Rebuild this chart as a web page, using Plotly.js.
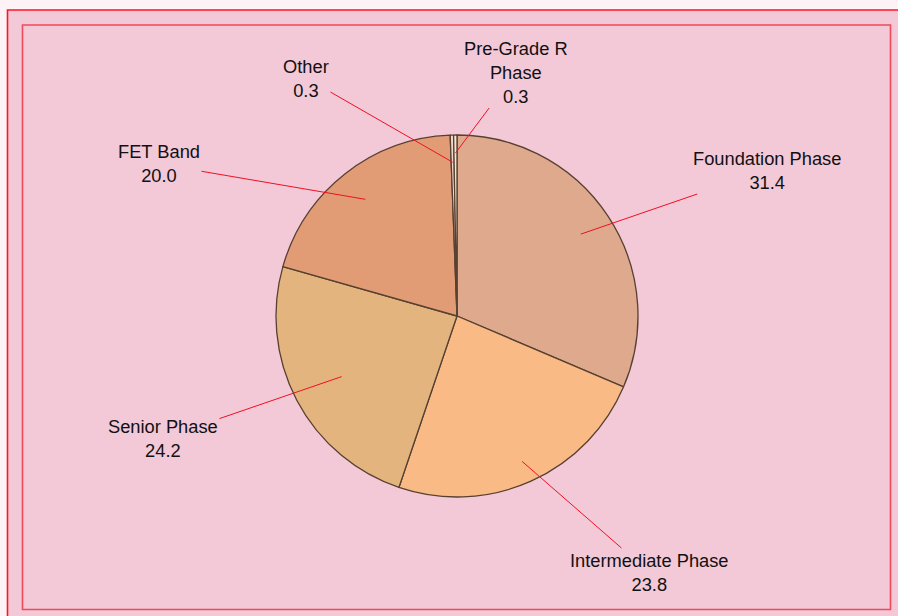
<!DOCTYPE html>
<html>
<head>
<meta charset="utf-8">
<script src="https://cdn.plot.ly/plotly-3.0.1.min.js"></script>
<style>
html,body{margin:0;padding:0;background:#fdf3f6;}
#chart{width:898px;height:616px;}
</style>
</head>
<body>
<div id="chart"></div>
<script>
// ---- data ----
const categories = ['Foundation Phase', 'Intermediate Phase', 'Senior Phase', 'FET Band', 'Other', 'Pre-Grade R Phase'];
const displayNames = ['Foundation Phase', 'Intermediate Phase', 'Senior Phase', 'FET Band', 'Other', 'Pre-Grade R<br>Phase'];
const shares = [31.4, 23.8, 24.2, 20.0, 0.3, 0.3];

// ---- style ----
const sliceColors = ['#dfa98e', '#f9ba86', '#e3b47e', '#e19c76', '#efd6cf', '#f6e6ce'];
const W = 898, H = 616;
const pieCx = 457, pieCy = 316, pieR = 181;
// label text centres (pixels) and anchor radius fraction
const labelPos = [[767, 170], [649, 572], [163, 438], [159, 164], [306, 78], [516, 72]];
const anchorFrac = [0.82, 0.88, 0.72, 0.82, 0.85, 0.9];

const total = shares.reduce((a, b) => a + b, 0);
let cum = 0;
const annotations = shares.map((v, i) => {
  const mid = (cum + v / 2) / total * 2 * Math.PI;
  cum += v;
  const px = pieCx + anchorFrac[i] * pieR * Math.sin(mid);
  const py = pieCy - anchorFrac[i] * pieR * Math.cos(mid);
  return {
    xref: 'paper', yref: 'paper',
    x: px / W, y: 1 - py / H,
    ax: labelPos[i][0] - px, ay: labelPos[i][1] - py,
    text: displayNames[i] + '<br>' + v.toFixed(1),
    showarrow: true, arrowhead: 0, arrowwidth: 1, arrowcolor: '#f01020',
    standoff: 0, startstandoff: 0,
    font: {family: 'Liberation Sans, Arial, sans-serif', size: 18.3, color: '#111111'},
    align: 'center'
  };
});

const trace = {
  type: 'pie',
  labels: categories,
  values: shares,
  sort: false,
  direction: 'clockwise',
  rotation: 0,
  textinfo: 'none',
  hoverinfo: 'label+value',
  marker: {colors: sliceColors, line: {color: '#574030', width: 1.3}},
  domain: {x: [(pieCx - pieR) / W, (pieCx + pieR) / W], y: [1 - (pieCy + pieR) / H, 1 - (pieCy - pieR) / H]}
};

const layout = {
  width: W, height: H,
  margin: {l: 0, r: 0, t: 0, b: 0},
  paper_bgcolor: '#fdf3f6',
  showlegend: false,
  shapes: [
    {type: 'rect', xref: 'paper', yref: 'paper', layer: 'below',
     x0: 7.5 / W, x1: 910 / W, y0: 1 - 630 / H, y1: 1 - 10 / H,
     fillcolor: '#f3c8d7', line: {color: '#ff1424', width: 1.6}},
    {type: 'rect', xref: 'paper', yref: 'paper', layer: 'below',
     x0: 22.5 / W, x1: 890.5 / W, y0: 1 - 609.5 / H, y1: 1 - 25 / H,
     fillcolor: 'rgba(0,0,0,0)', line: {color: '#f04a5a', width: 1.6}}
  ],
  annotations: annotations
};

Plotly.newPlot('chart', [trace], layout, {displayModeBar: false, staticPlot: true});
</script>
</body>
</html>
